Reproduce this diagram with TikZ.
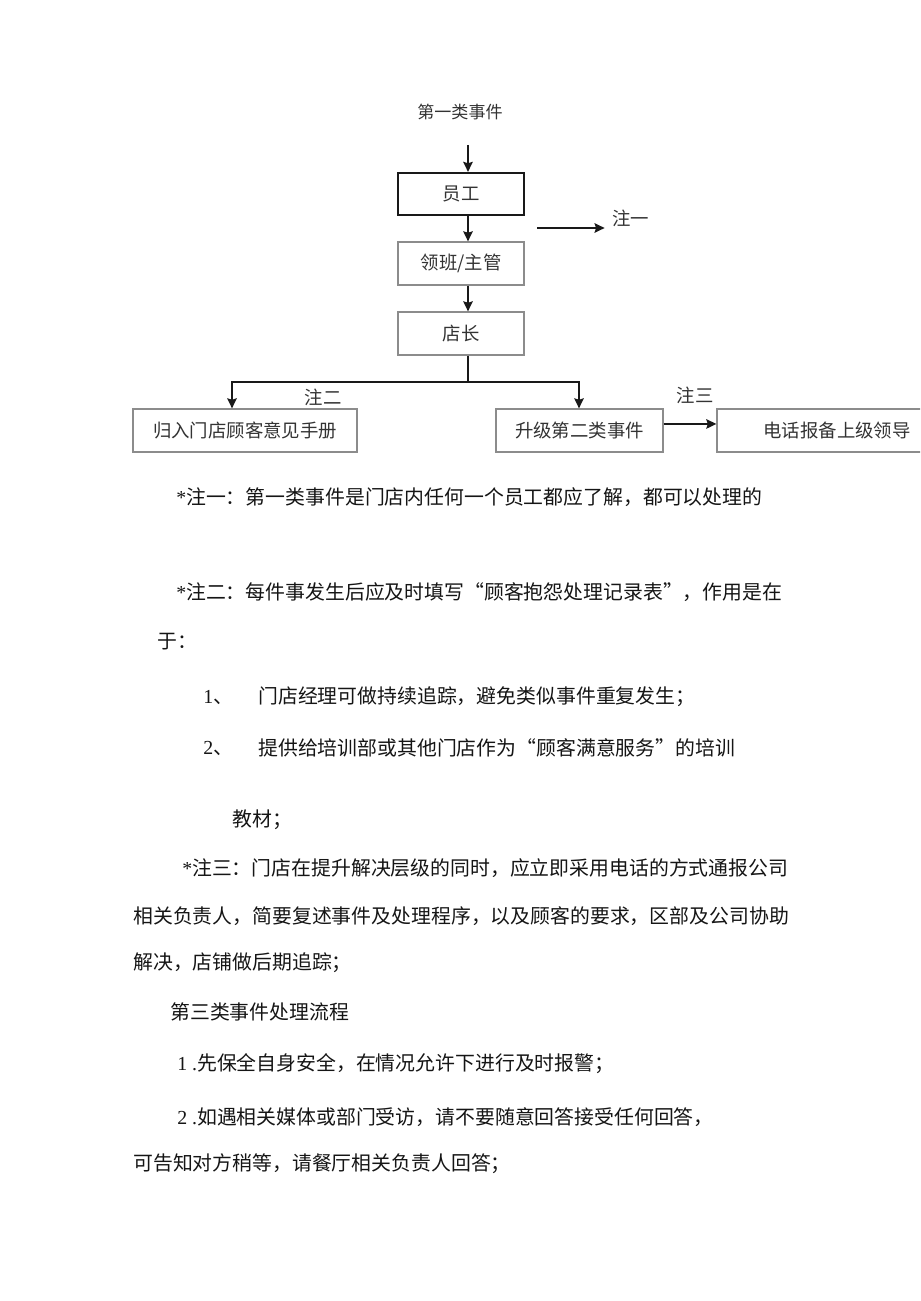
\documentclass[tikz,border=0pt]{standalone}
\usepackage{fontspec}
\setmainfont{Liberation Serif}
\newfontfamily\cjk{Noto Sans CJK SC}
\usetikzlibrary{arrows.meta}
\definecolor{boxgray}{HTML}{8C8C8C}
\definecolor{flowtext}{HTML}{333333}
\definecolor{bodytext}{HTML}{151515}
\newcommand\lat[1]{{\rmfamily #1}}
\begin{document}
\begin{tikzpicture}[x=0.75pt,y=-0.75pt,
  box/.style={draw=boxgray, line width=0.9pt, minimum height=32.25pt, inner sep=0pt,
    font=\cjk\fontsize{13.8}{16}\selectfont, text=flowtext},
  boxmain/.style={box, draw=black!90, line width=1.6pt},
  lbl/.style={inner sep=0pt, font=\cjk\fontsize{13.8}{16}\selectfont, text=flowtext},
  arr/.style={line width=1.5pt, draw=black!90, -{Stealth[length=7.5pt,width=7pt,inset=1pt]}},
  plain/.style={line width=1.5pt, draw=black!90},
  body/.style={anchor=west, inner sep=0pt, font=\cjk\fontsize{14.9}{18}\selectfont, text=bodytext}
]
\useasboundingbox (0,0) rectangle (920,1301);
\fill[white] (0,0) rectangle (920,1301);
\clip (0,0) rectangle (920,1301);

% ---- flowchart ----
\node[lbl, font=\cjk\fontsize{12.8}{15}\selectfont] (title) at (460,112) {第一类事件};
\coordinate (top) at (468,145);
\node[boxmain, minimum width=94.5pt, minimum height=31.5pt] (yg) at (461,194) {员工};
\node[box, minimum width=94.5pt] (lb) at (461,263.5) {领班/主管};
\node[box, minimum width=94.5pt] (dz) at (461,333.5) {店长};

\draw[arr] (top) -- (yg.north -| top);
\draw[arr] (yg.south -| top) -- (lb.north -| top);
\draw[arr] (lb.south -| top) -- (dz.north -| top);

\node[lbl, anchor=west] (z1) at (612,218) {注一};
\coordinate (n1s) at (537,228);
\draw[arr] (n1s) -- ([xshift=-5.5pt]z1.west |- n1s);

\node[box, minimum width=168pt] (gr) at (245,430.5) {归入门店顾客意见手册};
\node[box, minimum width=125.25pt] (sj) at (579.5,430.5) {升级第二类事件};
\node[box, minimum width=180pt] (dh) at (837,430.5) {电话报备上级领导};

\coordinate (br) at (468,382);
\coordinate (bl) at (232,382);
\coordinate (brr) at (579,382);
\draw[plain] (dz.south -| top) -- (br);
\draw[arr] (br) -- (bl) -- (gr.north -| bl);
\draw[arr] (br) -- (brr) -- (sj.north -| brr);
\node[lbl] (z2) at (323,397) {注二};
\node[lbl] (z3) at (695,395) {注三};
\draw[arr] ([yshift=4.9pt]sj.east) -- ([yshift=4.9pt]dh.west);

% ---- notes ----
\node[body] (t1) at (176,497) {\lat{*}注一：第一类事件是门店内任何一个员工都应了解，都可以处理的};
\node[body] (t2) at (176,592) {\lat{*}注二：每件事发生后应及时填写“顾客抱怨处理记录表”，作用是在};
\node[body] (t3) at (157,642) {于：};
\node[body] (n1) at (203,697) {\lat{1}、};
\node[body] (t4) at (258,697) {门店经理可做持续追踪，避免类似事件重复发生；};
\node[body] (n2) at (203,748) {\lat{2}、};
\node[body] (t5) at (258,748) {提供给培训部或其他门店作为“顾客满意服务”的培训};
\node[body] (t6) at (232,820) {教材；};
\node[body] (t7) at (182,868) {\lat{*}注三：门店在提升解决层级的同时，应立即采用电话的方式通报公司};
\node[body] (t8) at (133,916) {相关负责人，简要复述事件及处理程序，以及顾客的要求，区部及公司协助};
\node[body] (t9) at (133,963) {解决，店铺做后期追踪；};
\node[body] (t10) at (170,1012) {第三类事件处理流程};
\node[body] (t11) at (177,1064) {\lat{1 .}先保全自身安全，在情况允许下进行及时报警；};
\node[body] (t12) at (177,1117) {\lat{2 .}如遇相关媒体或部门受访，请不要随意回答接受任何回答，};
\node[body] (t13) at (133,1164) {可告知对方稍等，请餐厅相关负责人回答；};
\end{tikzpicture}
\end{document}
